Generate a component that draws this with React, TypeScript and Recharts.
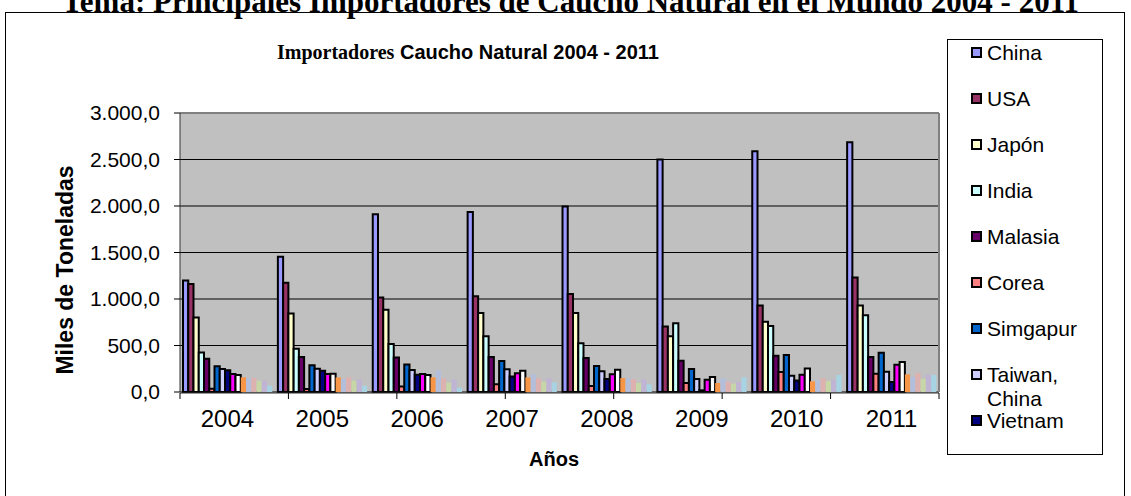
import { BarChart, Bar, XAxis, YAxis, CartesianGrid } from "recharts";

// años en el eje X
const YEARS = ["2004", "2005", "2006", "2007", "2008", "2009", "2010", "2011"];

// miles de toneladas
const CHINA = [1200, 1455, 1910, 1935, 1995, 2500, 2590, 2685];
const USA = [1160, 1175, 1015, 1030, 1055, 705, 930, 1230];
const JAPON = [800, 845, 885, 850, 850, 600, 755, 930];
const INDIA = [425, 465, 515, 600, 525, 740, 710, 825];
const MALASIA = [358, 376, 370, 376, 366, 337, 390, 376];
const COREA = [36, 32, 60, 82, 65, 97, 215, 197];
const SIMGAPUR = [276, 287, 297, 333, 280, 247, 398, 423];
const TAIWAN = [247, 251, 237, 244, 222, 140, 176, 219];
const VIETNAM = [233, 229, 186, 168, 140, 18, 125, 108];
// series cuyo nombre queda fuera de la leyenda
const SERIE_10 = [194, 194, 194, 201, 190, 133, 186, 294];
const SERIE_11 = [183, 197, 183, 229, 240, 161, 254, 323];
const SERIE_12 = [158, 158, 158, 158, 150, 97, 115, 190];
const SERIE_13 = [150, 140, 233, 190, 150, 147, 125, 161];
const SERIE_14 = [150, 158, 147, 147, 140, 107, 147, 204];
const SERIE_15 = [122, 122, 100, 111, 97, 90, 118, 140];
const SERIE_16 = [122, 133, 133, 147, 136, 107, 133, 186];
const SERIE_17 = [68, 68, 47, 104, 82, 158, 183, 183];

const Y_TICKS = [0, 500, 1000, 1500, 2000, 2500, 3000];
const EDGE_TICKS = [0, 1, 2, 3, 4, 5, 6, 7, 8];

const SERIES = [
  { name: "China", values: CHINA, color: "#9999FF", outlined: true },
  { name: "USA", values: USA, color: "#993366", outlined: true },
  { name: "Japón", values: JAPON, color: "#FFFFCC", outlined: true },
  { name: "India", values: INDIA, color: "#CCFFFF", outlined: true },
  { name: "Malasia", values: MALASIA, color: "#660066", outlined: true },
  { name: "Corea", values: COREA, color: "#FF8080", outlined: true },
  { name: "Simgapur", values: SIMGAPUR, color: "#0066CC", outlined: true },
  { name: "Taiwan, China", values: TAIWAN, color: "#CCCCFF", outlined: true },
  { name: "Vietnam", values: VIETNAM, color: "#000080", outlined: true },
  { name: "Serie 10", values: SERIE_10, color: "#FF00FF", outlined: true },
  { name: "Serie 11", values: SERIE_11, color: "#FFFFFF", outlined: true },
  { name: "Serie 12", values: SERIE_12, color: "#F79646", outlined: false },
  { name: "Serie 13", values: SERIE_13, color: "#B3BFDA", outlined: false },
  { name: "Serie 14", values: SERIE_14, color: "#DEB1B1", outlined: false },
  { name: "Serie 15", values: SERIE_15, color: "#C6D6A6", outlined: false },
  { name: "Serie 16", values: SERIE_16, color: "#C0B4D4", outlined: false },
  { name: "Serie 17", values: SERIE_17, color: "#A8D3E2", outlined: false },
];

const LEGEND_COUNT = 9; // la leyenda original está cortada tras Vietnam

const data = YEARS.map((year, i) => {
  const row: Record<string, string | number> = { year };
  SERIES.forEach((s) => {
    row[s.name] = s.values[i];
  });
  return row;
});

// 3000 -> "3.000,0"
const fmt = (v: number) => {
  const [int, dec] = v.toFixed(1).split(".");
  return int.replace(/\B(?=(\d{3})+(?!\d))/g, ".") + "," + dec;
};

const SANS = "'Liberation Sans', Arial, sans-serif";
const SERIF = "'Liberation Serif', 'Times New Roman', serif";

export default function App() {
  return (
    <div style={{ position: "relative", width: 1131, height: 496, overflow: "hidden", background: "#fff", fontFamily: SANS }}>
      <style>{"body{margin:0}"}</style>

      <div
        style={{
          position: "absolute", left: 5, top: -14, width: 1131, textAlign: "center",
          fontFamily: SERIF, fontWeight: "bold", fontSize: 31, lineHeight: "31px", whiteSpace: "nowrap",
        }}
      >
        Tema: Principales Importadores de Caucho Natural en el Mundo 2004 - 2011
      </div>

      <div style={{ position: "absolute", left: 5, top: 12, width: 1120, height: 600, border: "1px solid #000", boxSizing: "border-box" }} />

      <div style={{ position: "absolute", left: 277, top: 42, fontWeight: "bold", fontSize: 20, lineHeight: "20px", whiteSpace: "nowrap" }}>
        <span style={{ fontFamily: SERIF }}>Importadores</span> Caucho Natural 2004 - 2011
      </div>

      <div
        style={{
          position: "absolute", left: 65, top: 270, transform: "translate(-50%, -50%) rotate(-90deg)",
          fontWeight: "bold", fontSize: 23, whiteSpace: "nowrap",
        }}
      >
        Miles de Toneladas
      </div>

      <div style={{ position: "absolute", left: 554, top: 459, transform: "translate(-50%, -50%)", fontWeight: "bold", fontSize: 20 }}>
        Años
      </div>

      <div style={{ position: "absolute", left: 0, top: 0 }}>
        <BarChart
          width={1131}
          height={496}
          data={data}
          margin={{ top: 112, right: 191, left: 0, bottom: 102 }}
          barGap={0}
          barSize={5.25}
        >
          <CartesianGrid vertical={false} stroke="#000" fill="#C0C0C0" fillOpacity={1} />
          <XAxis
            dataKey="year"
            interval={0}
            height={1}
            tickLine={false}
            axisLine={false}
            tickSize={6}
            tickMargin={12}
            tick={{ fill: "#000", fontSize: 24, fontFamily: SANS }}
          />
          <XAxis
            xAxisId="edge"
            type="number"
            domain={[0, 8]}
            ticks={EDGE_TICKS}
            height={1}
            tickFormatter={() => ""}
            tickSize={6}
            tickLine={{ stroke: "#000" }}
            axisLine={{ stroke: "#333" }}
          />
          <XAxis
            xAxisId="top"
            orientation="top"
            type="number"
            domain={[0, 8]}
            height={1}
            tick={false}
            tickLine={false}
            axisLine={{ stroke: "#808080", strokeWidth: 2 }}
          />
          <YAxis
            domain={[0, 3000]}
            ticks={Y_TICKS}
            width={180}
            tickSize={6}
            tickMargin={14}
            tickFormatter={fmt}
            tick={{ fill: "#000", fontSize: 21, fontFamily: SANS }}
            tickLine={{ stroke: "#000" }}
            axisLine={{ stroke: "#333" }}
          />
          <YAxis
            yAxisId="right"
            orientation="right"
            domain={[0, 3000]}
            width={1}
            tick={false}
            tickLine={false}
            axisLine={{ stroke: "#808080", strokeWidth: 2 }}
          />
          {SERIES.map((s) => (
            <Bar
              key={s.name}
              dataKey={s.name}
              fill={s.color}
              stroke={s.outlined ? "#000" : "none"}
              strokeWidth={2}
              isAnimationActive={false}
            />
          ))}
        </BarChart>
      </div>

      <div
        style={{
          position: "absolute", left: 947, top: 39, width: 156, height: 416,
          border: "1px solid #000", boxSizing: "border-box", background: "#fff", paddingTop: 1,
        }}
      >
        {SERIES.slice(0, LEGEND_COUNT).map((s) => (
          <div key={s.name} style={{ height: 46, display: "flex", alignItems: "flex-start", paddingLeft: 23 }}>
            <span
              style={{
                width: 11, height: 11, marginTop: 6, marginRight: 5, flex: "none",
                background: s.color, border: "2px solid #000", boxSizing: "border-box",
              }}
            />
            <span style={{ fontSize: 21, lineHeight: "24px", maxWidth: 110 }}>{s.name}</span>
          </div>
        ))}
      </div>
    </div>
  );
}
